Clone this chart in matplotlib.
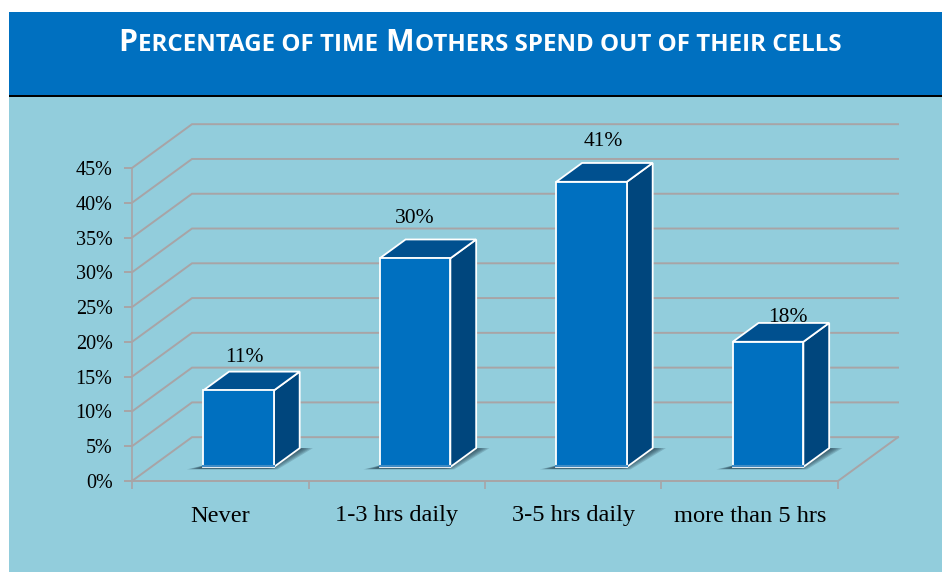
import matplotlib
matplotlib.use('Agg')
import matplotlib.pyplot as plt
from matplotlib.patches import Polygon, Rectangle

categories = ['Never', '1-3 hrs daily', '3-5 hrs daily', 'more than 5 hrs']
values = [11, 30, 41, 18]
y_ticks = [0, 5, 10, 15, 20, 25, 30, 35, 40, 45]
title_runs = [('P', 1), ('ERCENTAGE OF TIME ', 0), ('M', 1), ('OTHERS SPEND OUT OF THEIR CELLS', 0)]

W, H = 942, 573
BLUE = '#0070C0'
TOP = '#00508F'
SIDE = '#00467D'
TEAL = '#92CDDC'
GRID = '#A8A4A6'
SERIF = 'Liberation Serif'

# depth of the fake 3d floor, in data units
DX = 0.34
DY = 6.3
BAR_W = 0.40
D_FRONT = 0.32
D_BACK = 0.75

fig = plt.figure(figsize=(W / 100, H / 100), dpi=100, facecolor='white')

fig.patches.append(Rectangle((9 / W, 1 - 572 / H), 933 / W, 477 / H, transform=fig.transFigure, fc=TEAL, ec='none'))
fig.patches.append(Rectangle((9 / W, 1 - 96 / H), 933 / W, 84 / H, transform=fig.transFigure, fc=BLUE, ec='none'))
fig.patches.append(Rectangle((9 / W, 1 - 97 / H), 933 / W, 2 / H, transform=fig.transFigure, fc='black', ec='none'))

ax = fig.add_axes([132 / W, 1 - 481 / H, 706 / W, 313 / H])
ax.set_zorder(5)
ax.set_xlim(0, len(categories))
ax.set_ylim(0, 45)
ax.patch.set_alpha(0)
for s in ax.spines.values():
    s.set_visible(False)


def pt(x, y, d):
    return (x + d * DX, y + d * DY)


def poly(pts, **kw):
    p = Polygon(pts, closed=True, clip_on=False, **kw)
    ax.add_patch(p)
    return p


n = len(categories)
for v in y_ticks:
    xs, ys = zip(pt(0, v, 0), pt(0, v, 1), pt(n, v, 1))
    ax.plot(xs, ys, color=GRID, lw=1.4, clip_on=False, solid_joinstyle='miter', zorder=1)
# floor edges and axes
xs, ys = zip(pt(0, 0, 0), pt(n, 0, 0), pt(n, 0, 1))
ax.plot(xs, ys, color=GRID, lw=1.4, clip_on=False, zorder=1)
ax.plot([0, 0], [0, 45], color=GRID, lw=1.2, clip_on=False, zorder=1)

ax.set_xticks(range(n + 1))
ax.set_xticklabels([])
ax.set_yticks(y_ticks)
ax.set_yticklabels(['%d%%' % v for v in y_ticks], fontfamily=SERIF, fontsize=14.5, color='black')
ax.tick_params(axis='y', length=6, width=1.4, color=GRID, pad=8)
ax.tick_params(axis='x', length=6, width=1.2, color=GRID)

for i, c in enumerate(categories):
    ax.annotate(c, xy=(i + 0.5, 0), xycoords='data', xytext=(0, -35), textcoords='offset pixels',
                ha='center', va='center', fontfamily=SERIF, fontsize=17.6, color='black',
                annotation_clip=False)

label_lift = [14, 21, 21, 5]
label_shift = [-21, -27, -15, -7]

for i, v in enumerate(values):
    x0 = i + 0.495 - BAR_W / 2
    x1 = i + 0.495 + BAR_W / 2

    # soft shadow on the floor
    for k in range(6):
        g = 0.012 * k
        poly([pt(x0 - 0.075 + g, 0, D_FRONT - 0.055 + k * 0.004), pt(x1 + 0.04 - g, 0, D_FRONT - 0.055 + k * 0.004),
              pt(x1 + 0.075 - g, 0, D_BACK), pt(x1, 0, D_BACK),
              pt(x0, 0, D_FRONT + 0.05)],
             fc='#1F3A4A', ec='none', alpha=0.2, zorder=2)

    poly([pt(x1, 0, D_FRONT), pt(x1, 0, D_BACK), pt(x1, v, D_BACK), pt(x1, v, D_FRONT)],
         fc=SIDE, ec='white', lw=1.3, joinstyle='miter', zorder=3)
    poly([pt(x0, v, D_FRONT), pt(x1, v, D_FRONT), pt(x1, v, D_BACK), pt(x0, v, D_BACK)],
         fc=TOP, ec='white', lw=1.3, joinstyle='miter', zorder=3)
    poly([pt(x0, 0, D_FRONT), pt(x1, 0, D_FRONT), pt(x1, v, D_FRONT), pt(x0, v, D_FRONT)],
         fc=BLUE, ec='white', lw=1.3, joinstyle='miter', zorder=4)
    # lighter strip along the foot of the bar
    ax.plot([pt(x0, 0, D_FRONT)[0], pt(x1, 0, D_FRONT)[0]], [pt(x0, 0.2, D_FRONT)[1]] * 2,
            color='#3F8BC4', lw=1.5, clip_on=False, zorder=5)

    tx, ty = pt(i + 0.5, v, D_BACK)
    ax.annotate('%d%%' % v, xy=(tx, ty), xycoords='data', xytext=(label_shift[i], label_lift[i]),
                textcoords='offset pixels', ha='center', va='center',
                fontfamily=SERIF, fontsize=15.5, color='black', zorder=6, annotation_clip=False)

# small caps title, each run is placed after the previous one
fig.canvas.draw()
renderer = fig.canvas.get_renderer()
x = 118
for txt, big in title_runs:
    t = fig.text(x / W, 1 - 51 / H, txt, color='white', fontfamily='Open Sans', fontweight='bold',
                 fontsize=21.8 if big else 17.4, ha='left', va='baseline')
    x += t.get_window_extent(renderer).width + 1

fig.savefig('out.png', dpi=100, facecolor='white')
